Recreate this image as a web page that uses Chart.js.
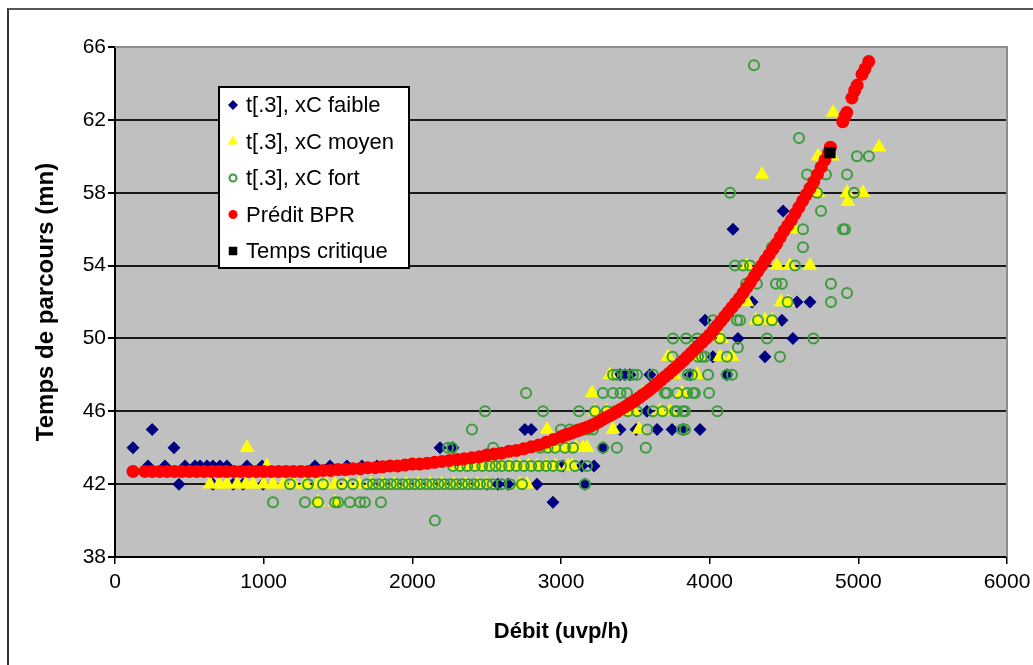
<!DOCTYPE html>
<html>
<head>
<meta charset="utf-8">
<title>Temps de parcours / Débit</title>
<script src="https://cdn.jsdelivr.net/npm/chart.js@4.4.1/dist/chart.umd.min.js"></script>
<style>
  html, body { margin: 0; padding: 0; background: #fff; overflow: hidden; }
  #wrap { position: relative; width: 1033px; height: 665px; }
  #frame { position: absolute; left: 7px; top: 8px; width: 1100px; height: 700px;
           border-left: 2px solid #333; border-top: 2px solid #555; }
  #chart { position: absolute; left: 0; top: 0; }
</style>
</head>
<body>
<div id="wrap">
  <div id="frame"></div>
  <canvas id="chart" width="1033" height="665"></canvas>
</div>
<script>
// ========================
// DATA
// ========================
const xTickValues = [0, 1000, 2000, 3000, 4000, 5000, 6000];
const yTickValues = [38, 42, 46, 50, 54, 58, 62, 66];

const seriesNames = ['t[.3], xC faible', 't[.3], xC moyen', 't[.3], xC fort', 'Prédit BPR', 'Temps critique'];

// t[.3], xC faible  [débit, temps]
const faible = [
  [121,44],[250,45],[397,44],[430,42],[222,43],[336,43],[471,43],[538,43],[572,43],[619,43],
  [659,43],[706,43],[753,43],[888,43],[989,43],[1345,43],[1446,43],[1560,43],[1661,43],[1762,43],
  [659,42],[794,42],[861,42],[996,42],[2186,44],[2273,44],[2502,42],[2576,42],[2643,42],[2838,42],
  [3161,42],[2946,41],[3013,43],[3141,43],[3222,43],[3282,44],[2757,45],[2800,45],[3397,45],[3505,45],
  [3646,45],[3747,45],[3821,45],[3935,45],[3578,46],[3397,48],[3430,48],[3464,48],[3598,48],[3868,48],
  [4116,48],[4022,49],[4372,49],[4190,50],[4560,50],[3969,51],[4486,51],[4285,52],[4587,52],[4675,52],
  [4157,56],[4494,57]
];

// t[.3], xC moyen
const moyen = [
  [888,44],[1022,43],
  [639,42],[700,42],[753,42],[821,42],[880,42],[928,42],[1000,42],[1063,42],[1130,42],[1200,42],
  [1280,42],[1365,42],[1420,42],[1480,42],[1560,42],[1640,42],[1720,42],[1800,42],[1880,42],[1960,42],
  [2040,42],[2120,42],[2200,42],[2280,42],[2360,42],[2440,42],[2500,42],[2724,42],[2771,42],
  [1365,41],[1480,41],
  [2300,43],[2360,43],[2420,43],[2480,43],[2540,43],[2600,43],[2660,43],[2720,43],[2780,43],[2840,43],
  [2900,43],[2960,43],[3047,43],[3074,43],
  [2926,44],[2980,44],[3040,44],[3100,44],[3148,44],[3175,44],
  [2906,45],[3350,45],[3525,45],
  [3229,46],[3309,46],[3410,46],[3490,46],[3666,46],[3733,46],
  [3208,47],[3551,47],[3814,47],
  [3330,48],[3760,48],[3915,48],
  [3720,49],[3928,49],[4069,49],[4150,49],
  [4080,50],
  [4311,51],[4372,51],[4422,51],
  [4251,52],[4480,52],[4527,52],
  [4251,54],[4453,54],[4540,54],[4675,54],
  [4567,56],[4930,57.5],[4729,58],[4924,58],[5031,58],[4352,59],[4729,60],[4823,60],[5139,60.5],[4830,62.4]
];

// t[.3], xC fort
const fort = [
  [2152,40],
  [1063,41],[1278,41],[1365,41],[1480,41],[1500,41],[1580,41],[1648,41],[1681,41],[1789,41],
  [1177,42],[1298,42],[1399,42],[1527,42],[1600,42],[1695,42],[1735,42],[1775,42],[1815,42],[1855,42],
  [1895,42],[1935,42],[1975,42],[2015,42],[2055,42],[2095,42],[2135,42],[2175,42],[2215,42],[2255,42],
  [2295,42],[2335,42],[2375,42],[2415,42],[2455,42],[2502,42],[2540,42],[2600,42],[2657,42],[2738,42],
  [3161,42],
  [2273,43],[2320,43],[2370,43],[2420,43],[2470,43],[2520,43],[2560,43],[2600,43],[2650,43],[2700,43],
  [2750,43],[2800,43],[2850,43],[2900,43],[2946,43],[3000,43],[3094,43],[3175,43],
  [2240,44],[2267,44],[2543,44],[2860,44],[2910,44],[2960,44],[3027,44],[3081,44],[3282,44],[3376,44],[3570,44],
  [2401,45],[3000,45],[3060,45],[3110,45],[3148,45],[3180,45],[3215,45],[3580,45],[3814,45],[3834,45],
  [2489,46],[2879,46],[3121,46],[3229,46],[3309,46],[3363,46],[3450,46],[3511,46],[3619,46],[3683,46],
  [3767,46],[3780,46],[3821,46],[3834,46],[4052,46],
  [2765,47],[3282,47],[3350,47],[3400,47],[3444,47],[3699,47],[3713,47],[3783,47],[3848,47],[3888,47],
  [3901,47],[3996,47],
  [3350,48],[3376,48],[3430,48],[3484,48],[3511,48],[3619,48],[3854,48],[3881,48],[3989,48],[4116,48],[4150,48],
  [3750,49],[3922,49],[3948,49],[3969,49],[4116,49],[4473,49],[4190,49.5],
  [3753,50],[3841,50],[3915,50],[4069,50],[4386,50],[4698,50],
  [4022,51],[4184,51],[4204,51],[4325,51],[4419,51],
  [4524,52],[4816,52],[4924,52.5],
  [4245,53],[4318,53],[4446,53],[4486,53],[4816,53],
  [4170,54],[4224,54],[4271,54],[4574,54],
  [4419,55],[4628,55],[4628,56],[4897,56],[4910,56],[4749,57],
  [4137,58],[4722,58],[4971,58],[4655,59],[4782,59],[4924,59],
  [4991,60],[5071,60],[4601,61],[4298,65]
];

// Prédit BPR
const bpr = [
  [121,42.7],[200,42.7],[250,42.7],[300,42.7],[350,42.7],[400,42.7],[450,42.7],[500,42.7],[550,42.7],[600,42.7],
  [650,42.7],[700,42.7],[750,42.7],[800,42.7],[850,42.7],[900,42.7],[950,42.7],[1000,42.7],[1050,42.7],[1100,42.7],
  [1150,42.7],[1200,42.7],[1250,42.7],[1300,42.7],[1350,42.7],[1400,42.75],[1450,42.75],[1500,42.8],[1550,42.8],
  [1600,42.85],[1650,42.85],[1700,42.9],[1750,42.9],[1800,42.95],[1850,43],[1900,43],[1950,43.05],[2000,43.1],
  [2050,43.1],[2100,43.15],[2150,43.2],[2200,43.25],[2250,43.3],[2300,43.35],[2350,43.4],[2400,43.45],[2450,43.5],
  [2500,43.6],[2550,43.65],[2600,43.7],[2650,43.8],[2700,43.85],[2750,43.95],[2800,44.05],[2850,44.15],[2900,44.3],
  [2950,44.45],[3000,44.6],[3025,44.68],[3050,44.75],[3075,44.82],[3100,44.9],[3125,44.97],[3150,45.05],[3175,45.12],
  [3200,45.2],[3225,45.3],[3250,45.4],[3275,45.52],[3300,45.65],[3325,45.75],[3350,45.85],[3375,45.97],[3400,46.1],
  [3425,46.22],[3450,46.35],[3475,46.47],[3500,46.6],[3525,46.75],[3550,46.9],[3575,47.05],[3600,47.2],[3625,47.37],
  [3650,47.55],[3675,47.72],[3700,47.9],[3725,48.07],[3750,48.25],[3775,48.42],[3800,48.6],[3825,48.8],[3850,49],
  [3875,49.2],[3900,49.4],[3925,49.6],[3950,49.8],[3975,50],[4000,50.2],[4025,50.45],[4050,50.7],[4075,50.95],
  [4100,51.2],[4125,51.45],[4150,51.7],[4175,51.95],[4200,52.2],[4225,52.5],[4250,52.8],[4275,53.1],[4300,53.4],
  [4325,53.7],[4350,54],[4375,54.3],[4400,54.6],[4425,54.9],[4450,55.2],[4475,55.55],[4500,55.9],[4525,56.2],
  [4550,56.5],[4575,56.85],[4600,57.2],[4625,57.55],[4650,57.9],[4675,58.25],[4700,58.6],[4725,59],[4750,59.4],
  [4775,59.8],[4800,60.2],[4812,60.5],[4895,61.9],[4910,62.2],[4922,62.4],[4957,63.2],[4975,63.6],[4992,63.9],
  [5025,64.5],[5045,64.8],[5070,65.2]
];

// Temps critique
const critique = [[4809,60.2]];

// ========================
// STYLES
// ========================
const FONT = "'Liberation Sans', Arial, sans-serif";
const markers = [
  { style: 'rectRot',  radius: 6.5, fill: '#000080', stroke: '#000080', width: 0, legendRadius: 5 },
  { style: 'triangle', radius: 8.5, fill: '#ffff00', stroke: '#ffff00', width: 0, legendRadius: 6 },
  { style: 'circle',   radius: 5,   fill: 'rgba(0,0,0,0)', stroke: '#3c9c3c', width: 2, legendRadius: 3.5 },
  { style: 'circle',   radius: 6.5, fill: '#ff0000', stroke: '#ff0000', width: 0, legendRadius: 4.5 },
  { style: 'rect',     radius: 8,   fill: '#000000', stroke: '#000000', width: 0, legendRadius: 6 }
];
const seriesData = [faible, moyen, fort, bpr, critique];

function toPoints(list) {
  return list.map(p => ({ x: p[0], y: p[1] }));
}

// grey plot area, grey top/right border
const plotBg = {
  id: 'plotBg',
  beforeDraw(chart) {
    const { ctx, chartArea: a } = chart;
    ctx.save();
    ctx.fillStyle = '#c0c0c0';
    ctx.fillRect(a.left, a.top, a.right - a.left, a.bottom - a.top);
    ctx.restore();
  },
  beforeDatasetsDraw(chart) {
    const { ctx, chartArea: a } = chart;
    ctx.save();
    ctx.strokeStyle = '#8c8c8c';
    ctx.lineWidth = 2;
    ctx.beginPath();
    ctx.moveTo(a.left, a.top);
    ctx.lineTo(a.right, a.top);
    ctx.lineTo(a.right, a.bottom);
    ctx.stroke();
    ctx.restore();
  }
};

// legend box inside the plot area
const boxLegend = {
  id: 'boxLegend',
  afterDraw(chart) {
    const { ctx, chartArea: a } = chart;
    const left = a.left + 104, top = a.top + 40, w = 190, h = 181;
    ctx.save();
    ctx.fillStyle = '#fff';
    ctx.fillRect(left, top, w, h);
    ctx.strokeStyle = '#000';
    ctx.lineWidth = 2;
    ctx.strokeRect(left, top, w, h);
    ctx.font = '22px ' + FONT;
    ctx.textBaseline = 'middle';
    seriesNames.forEach((name, i) => {
      const m = markers[i];
      const y = top + 18 + i * 36.5;
      ctx.fillStyle = m.fill;
      ctx.strokeStyle = m.stroke;
      ctx.lineWidth = m.width;
      Chart.helpers.drawPoint(ctx, { pointStyle: m.style, radius: m.legendRadius, rotation: 0, borderWidth: m.width }, left + 14, y);
      ctx.fillStyle = '#000';
      ctx.fillText(name, left + 27, y + 1);
    });
    ctx.restore();
  }
};

const datasets = seriesData.map((list, i) => ({
  label: seriesNames[i],
  data: toPoints(list),
  pointStyle: markers[i].style,
  pointRadius: markers[i].radius,
  pointBackgroundColor: markers[i].fill,
  pointBorderColor: markers[i].stroke,
  pointBorderWidth: markers[i].width,
  showLine: false,
  order: 5 - i   // first series at the back, critical point on top
}));

new Chart(document.getElementById('chart'), {
  type: 'scatter',
  data: { datasets: datasets },
  options: {
    responsive: false,
    animation: false,
    events: [],
    layout: { padding: { left: 0, top: 47, right: 26, bottom: 0 } },
    plugins: {
      legend: { display: false },
      tooltip: { enabled: false }
    },
    scales: {
      x: {
        type: 'linear',
        min: 0, max: 6000,
        afterBuildTicks: s => { s.ticks = xTickValues.map(v => ({ value: v })); },
        afterFit: s => { s.height = 108; s.paddingRight = 0; s.paddingLeft = 0; },
        grid: { drawOnChartArea: false, color: '#000', tickColor: '#000', tickLength: 7, lineWidth: 1.5 },
        border: { color: '#000', width: 2 },
        ticks: { color: '#000', padding: 6, font: { family: FONT, size: 21 }, maxRotation: 0,
                 callback: v => String(v) },
        title: { display: true, text: 'Débit (uvp/h)', color: '#000',
                 font: { family: FONT, size: 22, weight: 'bold' }, padding: { top: 0, bottom: 20 } }
      },
      y: {
        type: 'linear',
        min: 38, max: 66,
        afterBuildTicks: s => { s.ticks = yTickValues.map(v => ({ value: v })); },
        afterFit: s => { s.width = 115; s.paddingTop = 0; s.paddingBottom = 0; },
        grid: {
          color: c => c.tick && c.tick.value === 66 ? '#8c8c8c' : (c.tick && c.tick.value === 38 ? 'rgba(0,0,0,0)' : '#1a1a1a'),
          tickColor: '#000', tickLength: 7, lineWidth: 2
        },
        border: { color: '#000', width: 2 },
        ticks: { color: '#000', padding: 2, font: { family: FONT, size: 21 } },
        title: { display: true, text: 'Temps de parcours (mn)', color: '#000',
                 font: { family: FONT, size: 24, weight: 'bold' }, padding: { top: 32, bottom: 0 } }
      }
    }
  },
  plugins: [plotBg, boxLegend]
});
</script>
</body>
</html>
